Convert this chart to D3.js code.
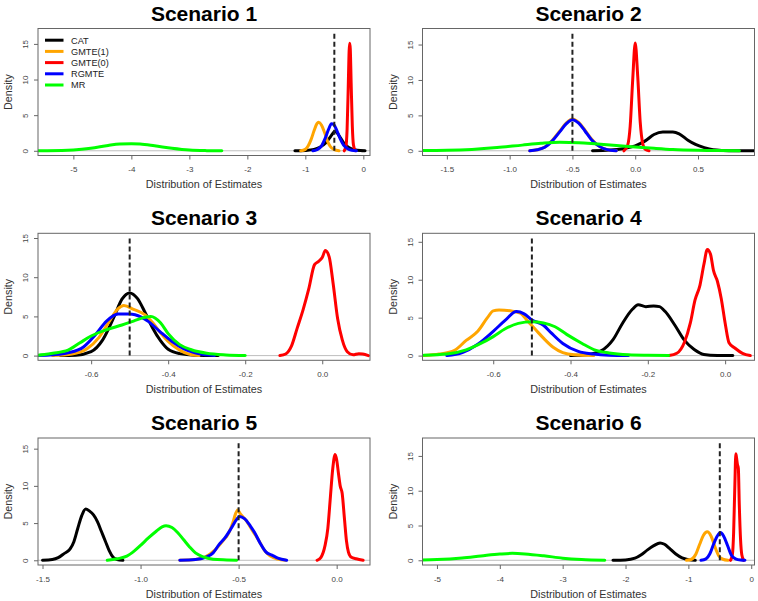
<!DOCTYPE html>
<html><head><meta charset="utf-8">
<script src="https://cdn.jsdelivr.net/npm/d3@7"></script>
<style>html,body{margin:0;padding:0;background:#fff;}svg{display:block;font-family:"Liberation Sans",Arial,sans-serif;}</style>
</head><body>
<svg id="chart" width="758" height="601"></svg>
<script>
// ---------- data ----------
const methods = ["CAT", "GMTE(1)", "GMTE(0)", "RGMTE", "MR"];
const methodColors = ["#000000", "#FFA500", "#FF0000", "#0000FF", "#00FF00"];
const scenarioTitles = ["Scenario 1", "Scenario 2", "Scenario 3", "Scenario 4", "Scenario 5", "Scenario 6"];
const trueValue = -0.5;
const xLims = [[-5.61, 0.115], [-1.694, 0.95], [-0.738, 0.124], [-0.783, 0.076], [-1.523, 0.17], [-5.23, 0.052]];
const yTops = [16.5, 16.6, 15.0, 15.5, 15.8, 16.9];
const yTicks = [0, 5, 10, 15];
const xTicks = [[-5, -4, -3, -2, -1, 0], [-1.5, -1, -0.5, 0, 0.5], [-0.6, -0.4, -0.2, 0], [-0.6, -0.4, -0.2, 0], [-1.5, -1, -0.5, 0], [-5, -4, -3, -2, -1, 0]];
const xTickLabels = [["-5", "-4", "-3", "-2", "-1", "0"], ["-1.5", "-1.0", "-0.5", "0.0", "0.5"], ["-0.6", "-0.4", "-0.2", "0.0"], ["-0.6", "-0.4", "-0.2", "0.0"], ["-1.5", "-1.0", "-0.5", "0.0"], ["-5", "-4", "-3", "-2", "-1", "0"]];

// Scenario 1
const s1CAT = [[-1.18,0],[-1.0,0.05],[-0.85,0.2],[-0.75,0.5],[-0.65,1.1],[-0.58,1.8],[-0.53,2.4],[-0.49,2.75],[-0.45,2.5],[-0.4,1.9],[-0.33,1.0],[-0.25,0.45],[-0.15,0.15],[-0.05,0.03],[0.03,0]];
const s1GMTE1 = [[-1.08,0],[-1.0,0.2],[-0.95,0.7],[-0.9,1.6],[-0.85,2.8],[-0.8,3.8],[-0.77,4.0],[-0.72,3.6],[-0.67,2.6],[-0.62,1.4],[-0.57,0.6],[-0.5,0.15],[-0.42,0]];
const s1GMTE0 = [[-0.33,0],[-0.3,0.6],[-0.28,3],[-0.26,9],[-0.245,14],[-0.235,15.1],[-0.225,14.3],[-0.21,9.5],[-0.19,3.5],[-0.17,0.8],[-0.14,0]];
const s1RGMTE = [[-0.87,0],[-0.8,0.15],[-0.72,0.7],[-0.66,1.7],[-0.6,3.0],[-0.55,3.8],[-0.51,3.7],[-0.46,2.9],[-0.4,1.7],[-0.34,0.8],[-0.27,0.3],[-0.2,0.08],[-0.12,0]];
const s1MR = [[-5.7,0.01],[-5.45,0.02],[-5.0,0.12],[-4.7,0.35],[-4.4,0.75],[-4.2,0.95],[-4.0,1.0],[-3.85,0.95],[-3.6,0.7],[-3.3,0.35],[-3.0,0.1],[-2.7,0.02],[-2.44,0]];

// Scenario 2
const s2CAT = [[-0.34,0],[-0.2,0.1],[-0.1,0.3],[0,0.7],[0.08,1.4],[0.15,2.3],[0.22,2.65],[0.3,2.65],[0.35,2.4],[0.42,1.5],[0.48,0.9],[0.55,0.45],[0.62,0.15],[0.7,0.05],[0.8,0.01],[1.0,0]];
const s2GMTE1 = [[-0.84,0],[-0.78,0.15],[-0.72,0.55],[-0.66,1.5],[-0.6,2.8],[-0.55,3.9],[-0.5,4.5],[-0.45,4.0],[-0.4,2.9],[-0.35,1.7],[-0.3,0.8],[-0.25,0.3],[-0.2,0.08],[-0.15,0]];
const s2GMTE0 = [[-0.09,0],[-0.06,0.8],[-0.04,3.5],[-0.02,10],[0,15.2],[0.02,10.5],[0.04,4],[0.06,1],[0.08,0.2],[0.11,0]];
const s2RGMTE = [[-0.84,0],[-0.78,0.15],[-0.72,0.5],[-0.66,1.4],[-0.6,2.7],[-0.55,3.8],[-0.5,4.4],[-0.45,3.9],[-0.4,2.8],[-0.35,1.6],[-0.3,0.8],[-0.25,0.3],[-0.2,0.08],[-0.15,0]];
const s2MR = [[-1.75,0.02],[-1.5,0.07],[-1.3,0.2],[-1.1,0.45],[-0.9,0.8],[-0.75,1.05],[-0.6,1.2],[-0.45,1.15],[-0.3,0.95],[-0.15,0.75],[0,0.55],[0.15,0.35],[0.3,0.18],[0.5,0.07],[0.65,0.03],[0.83,0]];

// Scenario 3
const s3CAT = [[-0.68,0],[-0.64,0.05],[-0.6,0.5],[-0.57,2],[-0.54,5],[-0.52,7.2],[-0.5,8.0],[-0.48,7.3],[-0.46,5.5],[-0.44,3.5],[-0.42,1.9],[-0.4,0.8],[-0.37,0.25],[-0.33,0.05],[-0.27,0]];
const s3GMTE1 = [[-0.7,0],[-0.65,0.2],[-0.61,0.9],[-0.58,2.3],[-0.55,4.6],[-0.53,6.0],[-0.515,6.4],[-0.49,5.9],[-0.46,5.2],[-0.44,4.2],[-0.42,2.9],[-0.4,1.8],[-0.37,0.7],[-0.35,0.25],[-0.32,0]];
const s3GMTE0 = [[-0.11,0],[-0.095,0.2],[-0.08,1.2],[-0.065,3.5],[-0.05,5.8],[-0.035,8.5],[-0.02,11.6],[-0.01,12.0],[0.0,12.5],[0.008,13.4],[0.018,12.6],[0.028,9.3],[0.04,4.7],[0.052,2.0],[0.065,0.5],[0.08,0.1],[0.095,0.25],[0.105,0.2],[0.12,0]];
const s3RGMTE = [[-0.74,0],[-0.7,0.1],[-0.66,0.35],[-0.62,1.1],[-0.59,2.6],[-0.56,4.4],[-0.53,5.3],[-0.5,5.3],[-0.47,4.9],[-0.45,4.3],[-0.42,3.0],[-0.39,1.8],[-0.36,0.9],[-0.33,0.35],[-0.3,0.1],[-0.28,0]];
const s3MR = [[-0.76,0.02],[-0.74,0.05],[-0.7,0.3],[-0.66,0.7],[-0.63,1.6],[-0.6,2.5],[-0.56,3.3],[-0.52,3.9],[-0.49,4.4],[-0.46,4.9],[-0.445,5.0],[-0.42,4.2],[-0.4,2.8],[-0.37,1.4],[-0.34,0.75],[-0.3,0.3],[-0.25,0.08],[-0.2,0]];

// Scenario 4
const s4CAT = [[-0.4,0],[-0.36,0.1],[-0.32,0.65],[-0.29,2.1],[-0.265,4.3],[-0.24,6.1],[-0.225,6.7],[-0.205,6.45],[-0.185,6.55],[-0.17,6.45],[-0.155,5.8],[-0.13,4.0],[-0.105,2.0],[-0.08,0.8],[-0.055,0.15],[-0.02,0.02],[0.02,0]];
const s4GMTE1 = [[-0.78,0],[-0.74,0.2],[-0.7,0.7],[-0.67,2.0],[-0.64,3.2],[-0.615,5.0],[-0.6,5.9],[-0.585,6.0],[-0.55,5.85],[-0.53,5.6],[-0.51,4.5],[-0.49,3.4],[-0.47,2.3],[-0.445,1.1],[-0.42,0.4],[-0.39,0.1],[-0.34,0]];
const s4GMTE0 = [[-0.145,0],[-0.125,0.3],[-0.105,1.8],[-0.09,4.3],[-0.078,7.3],[-0.065,9.3],[-0.055,12],[-0.046,14.0],[-0.038,13.4],[-0.03,11.2],[-0.02,9.8],[-0.01,7.5],[0.0,4.3],[0.01,1.7],[0.025,1.0],[0.045,0.3],[0.065,0]];
const s4RGMTE = [[-0.72,0],[-0.68,0.4],[-0.64,1.5],[-0.6,3.2],[-0.57,4.6],[-0.54,5.8],[-0.52,5.5],[-0.5,4.7],[-0.47,4.0],[-0.45,3.0],[-0.42,1.6],[-0.38,0.55],[-0.34,0.2],[-0.3,0.05],[-0.25,0]];
const s4MR = [[-0.78,0.05],[-0.72,0.2],[-0.67,0.75],[-0.64,1.4],[-0.6,2.5],[-0.57,3.5],[-0.535,4.25],[-0.5,4.45],[-0.47,4.3],[-0.44,3.8],[-0.41,2.8],[-0.37,1.6],[-0.34,0.8],[-0.3,0.35],[-0.25,0.1],[-0.2,0.03],[-0.146,0]];

// Scenario 5
const s5CAT = [[-1.5,0],[-1.45,0.1],[-1.42,0.35],[-1.39,0.9],[-1.36,1.5],[-1.34,2.5],[-1.32,4.3],[-1.3,6.0],[-1.28,6.9],[-1.26,6.6],[-1.24,6.1],[-1.22,5.2],[-1.2,3.9],[-1.18,2.6],[-1.16,1.3],[-1.14,0.4],[-1.12,0.1],[-1.09,0]];
const s5GMTE1 = [[-0.8,0],[-0.72,0.1],[-0.67,0.45],[-0.62,1.4],[-0.58,2.6],[-0.55,3.7],[-0.53,5.0],[-0.515,6.3],[-0.505,6.75],[-0.49,6.2],[-0.46,5.3],[-0.43,4.0],[-0.4,2.8],[-0.37,1.4],[-0.34,0.6],[-0.3,0.15],[-0.26,0]];
const s5GMTE0 = [[-0.1,0],[-0.08,0.4],[-0.06,1.9],[-0.045,4.3],[-0.032,8.5],[-0.02,12.3],[-0.008,14.2],[0.0,13.5],[0.01,11.5],[0.018,10.0],[0.028,9.0],[0.04,5.5],[0.05,2.6],[0.06,1.1],[0.075,0.4],[0.1,0.2],[0.135,0]];
const s5RGMTE = [[-0.8,0],[-0.72,0.1],[-0.67,0.4],[-0.63,1.0],[-0.6,2.1],[-0.57,3.0],[-0.54,4.2],[-0.51,5.5],[-0.495,5.9],[-0.47,5.6],[-0.44,4.6],[-0.42,3.8],[-0.39,2.3],[-0.36,1.1],[-0.33,0.7],[-0.3,0.3],[-0.255,0]];
const s5MR = [[-1.17,0],[-1.12,0.2],[-1.07,0.55],[-1.03,1.3],[-1.0,2.0],[-0.96,3.0],[-0.92,3.9],[-0.89,4.5],[-0.87,4.65],[-0.84,4.4],[-0.81,3.7],[-0.78,2.75],[-0.75,1.8],[-0.72,1.0],[-0.68,0.45],[-0.63,0.15],[-0.56,0.05],[-0.51,0]];

// Scenario 6
const s6CAT = [[-2.2,0],[-2.0,0.05],[-1.85,0.3],[-1.75,0.8],[-1.65,1.5],[-1.55,2.1],[-1.45,2.5],[-1.38,2.3],[-1.3,1.7],[-1.2,0.9],[-1.1,0.35],[-1.0,0.1],[-0.89,0]];
const s6GMTE1 = [[-1.03,0],[-0.95,0.15],[-0.88,0.9],[-0.82,2.3],[-0.76,3.6],[-0.7,4.1],[-0.64,3.5],[-0.58,2.0],[-0.52,0.7],[-0.45,0.15],[-0.37,0]];
const s6GMTE0 = [[-0.33,0],[-0.3,0.8],[-0.28,4],[-0.26,11],[-0.245,15.3],[-0.235,14.8],[-0.22,13.8],[-0.205,13.2],[-0.19,8],[-0.17,3],[-0.15,0.8],[-0.12,0]];
const s6RGMTE = [[-0.8,0],[-0.72,0.2],[-0.66,0.9],[-0.6,2.3],[-0.54,3.5],[-0.49,4.0],[-0.44,3.5],[-0.38,2.2],[-0.32,0.8],[-0.25,0.2],[-0.17,0.03],[-0.1,0]];
const s6MR = [[-5.3,0.03],[-5.0,0.1],[-4.6,0.33],[-4.3,0.62],[-4.0,0.9],[-3.8,1.0],[-3.6,0.92],[-3.3,0.65],[-3.0,0.3],[-2.7,0.1],[-2.33,0]];

const scenarioCurves = [
  [s1CAT, s1GMTE1, s1GMTE0, s1RGMTE, s1MR],
  [s2CAT, s2GMTE1, s2GMTE0, s2RGMTE, s2MR],
  [s3CAT, s3GMTE1, s3GMTE0, s3RGMTE, s3MR],
  [s4CAT, s4GMTE1, s4GMTE0, s4RGMTE, s4MR],
  [s5CAT, s5GMTE1, s5GMTE0, s5RGMTE, s5MR],
  [s6CAT, s6GMTE1, s6GMTE0, s6RGMTE, s6MR]
];

// ---------- layout ----------
const colLefts = [38, 422.5];
const rowTops = [28.5, 233.3, 438];
const pw = 332, ph = 127;

const svg = d3.select("#chart");

scenarioTitles.forEach((title, i) => {
  const left = colLefts[i % 2], top = rowTops[Math.floor(i / 2)];
  const x = d3.scaleLinear().domain(xLims[i]).range([0, pw]);
  const yt = yTops[i];
  const y = d3.scaleLinear().domain([-0.04 * yt, 1.04 * yt]).range([ph, 0]);
  const g = svg.append("g").attr("transform", `translate(${left},${top})`);

  const clipId = "clip" + i;
  g.append("clipPath").attr("id", clipId).append("rect").attr("width", pw).attr("height", ph);
  const plot = g.append("g").attr("clip-path", `url(#${clipId})`);

  // zero line
  plot.append("line").attr("x1", 0).attr("x2", pw).attr("y1", y(0)).attr("y2", y(0))
    .attr("stroke", "#bebebe").attr("stroke-width", 1);

  const line = d3.line().x(d => x(d[0])).y(d => y(d[1])).curve(d3.curveMonotoneX);
  scenarioCurves[i].forEach((pts, k) => {
    plot.append("path").attr("d", line(pts)).attr("fill", "none")
      .attr("stroke", methodColors[k]).attr("stroke-width", 3)
      .attr("stroke-linecap", "round").attr("stroke-linejoin", "round");
  });

  // true value dashed line
  plot.append("line").attr("x1", x(trueValue)).attr("x2", x(trueValue))
    .attr("y1", y(0)).attr("y2", y(yt))
    .attr("stroke", "#222").attr("stroke-width", 2).attr("stroke-dasharray", "5,3");

  // box
  g.append("rect").attr("x", 0).attr("y", 0).attr("width", pw).attr("height", ph)
    .attr("fill", "none").attr("stroke", "#666").attr("stroke-width", 1);

  // x axis
  const xa = d3.axisBottom(x).tickValues(xTicks[i]).tickSize(4).tickPadding(7)
    .tickFormat((d, j) => xTickLabels[i][j]);
  const gx = g.append("g").attr("transform", `translate(0,${ph})`).call(xa);
  gx.select(".domain").remove();
  gx.selectAll("line").attr("stroke", "#666");
  gx.selectAll("text").attr("fill", "#444").attr("font-size", 8)
    .attr("font-family", "'Liberation Sans',Arial,sans-serif");

  // y axis
  const ya = d3.axisLeft(y).tickValues(yTicks).tickSize(4).tickFormat(d3.format("d"));
  const gy = g.append("g").call(ya);
  gy.select(".domain").remove();
  gy.selectAll("line").attr("stroke", "#666");
  gy.selectAll("text").attr("fill", "#444").attr("font-size", 8)
    .attr("font-family", "'Liberation Sans',Arial,sans-serif")
    .attr("x", null).attr("dy", null).attr("text-anchor", "middle")
    .attr("transform", "translate(-10,0) rotate(-90)");

  // titles
  g.append("text").attr("x", pw / 2).attr("y", -8).attr("text-anchor", "middle")
    .attr("font-size", 21).attr("font-weight", "bold").attr("fill", "#000").text(title);
  g.append("text").attr("x", pw / 2).attr("y", ph + 32.5).attr("text-anchor", "middle")
    .attr("font-size", 10.8).attr("fill", "#333").text("Distribution of Estimates");
  g.append("text").attr("transform", `translate(-26,${ph / 2}) rotate(-90)`).attr("text-anchor", "middle")
    .attr("font-size", 10.8).attr("fill", "#333").text("Density");

  // legend in first panel
  if (i === 0) {
    const lg = g.append("g");
    methods.forEach((m, k) => {
      const ly = 11.7 + k * 11.2;
      lg.append("line").attr("x1", 7).attr("x2", 25.5).attr("y1", ly).attr("y2", ly)
        .attr("stroke", methodColors[k]).attr("stroke-width", 3);
      lg.append("text").attr("x", 33).attr("y", ly + 3.3).attr("font-size", 9.2)
        .attr("fill", "#222").text(m);
    });
  }
});
</script>
</body></html>
